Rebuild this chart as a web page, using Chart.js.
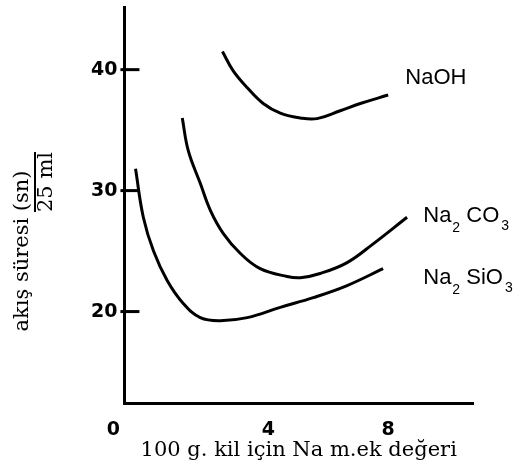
<!DOCTYPE html>
<html lang="tr">
<head>
<meta charset="UTF-8">
<title>Akış süresi</title>
<script src="https://cdn.jsdelivr.net/npm/chart.js"></script>
<style>
  body { margin: 0; background: #fff; }
  #wrap { width: 513px; height: 475px; }
</style>
</head>
<body>
<div id="wrap"><canvas id="akisChart"></canvas></div>
<script>
// values (x = Na m.ek / 100 g kil, y = akış süresi)
const naohX = [2.47, 2.83, 3.30, 3.83, 4.40, 5.07, 5.63, 6.40, 7.07, 8.00];
const naohY = [41.5, 39.9, 38.5, 37.2, 36.4, 36.0, 35.95, 36.6, 37.2, 37.9];

const carbX = [1.13, 1.33, 1.73, 2.07, 2.50, 3.07, 3.73, 4.63, 5.07, 5.73, 6.63, 7.50, 8.63];
const carbY = [36.0, 33.3, 30.6, 28.35, 26.45, 24.8, 23.55, 22.9, 22.8, 23.15, 24.05, 25.6, 27.8];

const silX = [-0.43, -0.17, 0.17, 0.63, 1.17, 1.73, 2.40, 3.30, 4.40, 5.50, 6.63, 7.83];
const silY = [31.8, 27.8, 25.0, 22.55, 20.65, 19.5, 19.25, 19.5, 20.35, 21.15, 22.15, 23.55];

const yTicks = [20, 30, 40];
const xTicks = [4, 8];

// curve labels: [main, subscript, rest, subscript, x value, y value]
const curveLabels = [
  ['NaOH', '', '', '', 8.57, 39.3],
  ['Na', '2', ' CO', '3', 9.17, 27.9],
  ['Na', '2', ' SiO', '3', 9.17, 22.8]
];

function pts(xs, ys) {
  return xs.map((x, i) => ({ x: x, y: ys[i] }));
}

function curve(label, xs, ys) {
  return {
    label: label,
    data: pts(xs, ys),
    borderColor: '#000',
    borderWidth: 3,
    pointRadius: 0,
    fill: false,
    tension: 0.4,
    clip: false
  };
}

const extras = {
  id: 'extras',
  afterDraw(chart) {
    const ctx = chart.ctx;
    const xs = chart.scales.x, ys = chart.scales.y;
    const area = chart.chartArea;
    ctx.save();
    ctx.fillStyle = '#000';
    ctx.strokeStyle = '#000';

    // y tick marks pointing into the plot
    ctx.lineWidth = 3;
    yTicks.forEach(v => {
      const py = ys.getPixelForValue(v);
      ctx.beginPath();
      ctx.moveTo(area.left - 4, py);
      ctx.lineTo(area.left + 15, py);
      ctx.stroke();
    });

    // "0" at the corner
    ctx.font = 'bold 19px "DejaVu Sans"';
    ctx.textAlign = 'center';
    ctx.textBaseline = 'middle';
    ctx.fillText('0', area.left - 11, 430);

    // y title as a fraction
    ctx.font = '21px "DejaVu Serif"';
    ctx.textBaseline = 'alphabetic';
    ctx.save();
    ctx.translate(28, 251);
    ctx.rotate(-Math.PI / 2);
    ctx.fillText('akış süresi (sn)', 0, 0);
    ctx.restore();
    ctx.save();
    ctx.translate(52, 182);
    ctx.rotate(-Math.PI / 2);
    ctx.fillText('25 ml', 0, 0);
    ctx.restore();
    ctx.lineWidth = 2;
    ctx.beginPath();
    ctx.moveTo(35, 152);
    ctx.lineTo(35, 212);
    ctx.stroke();

    // curve names
    ctx.textAlign = 'left';
    ctx.textBaseline = 'middle';
    curveLabels.forEach(l => {
      let px = xs.getPixelForValue(l[4]);
      const py = ys.getPixelForValue(l[5]);
      ctx.font = '22px "Liberation Sans"';
      ctx.fillText(l[0], px, py);
      px += ctx.measureText(l[0]).width + 1;
      if (l[1]) {
        ctx.font = '14px "Liberation Sans"';
        ctx.fillText(l[1], px, py + 12);
        px += ctx.measureText(l[1]).width;
        ctx.font = '22px "Liberation Sans"';
        ctx.fillText(l[2], px, py);
        px += ctx.measureText(l[2]).width + 2;
        ctx.font = '14px "Liberation Sans"';
        ctx.fillText(l[3], px, py + 10);
      }
    });
    ctx.restore();
  }
};

const ctx = document.getElementById('akisChart').getContext('2d');
new Chart(ctx, {
  type: 'line',
  data: {
    datasets: [
      curve('NaOH', naohX, naohY),
      curve('Na2CO3', carbX, carbY),
      curve('Na2SiO3', silX, silY)
    ]
  },
  options: {
    responsive: true,
    maintainAspectRatio: false,
    animation: false,
    layout: { padding: { left: 84, right: 40, top: 7, bottom: 0 } },
    plugins: { legend: { display: false }, tooltip: { enabled: false } },
    scales: {
      x: {
        type: 'linear',
        min: -0.8,
        max: 10.83,
        grid: { display: false, drawTicks: false },
        border: { display: true, color: '#000', width: 3 },
        afterBuildTicks: axis => { axis.ticks = xTicks.map(v => ({ value: v })); },
        ticks: {
          color: '#000',
          padding: 17.5,
          font: { family: 'DejaVu Sans', size: 19, weight: 'bold', lineHeight: 1 }
        },
        title: {
          display: true,
          text: '100 g. kil için Na m.ek değeri',
          color: '#000',
          font: { family: 'DejaVu Serif', size: 21, lineHeight: 1 },
          padding: { top: -17, bottom: 13.5 }
        }
      },
      y: {
        min: 12.4,
        max: 45.1,
        grid: { display: false, drawTicks: false },
        border: { display: true, color: '#000', width: 3 },
        afterBuildTicks: axis => { axis.ticks = yTicks.map(v => ({ value: v })); },
        ticks: {
          color: '#000',
          padding: 7,
          font: { family: 'DejaVu Sans', size: 19, weight: 'bold', lineHeight: 0.1 }
        }
      }
    }
  },
  plugins: [extras]
});
</script>
</body>
</html>
